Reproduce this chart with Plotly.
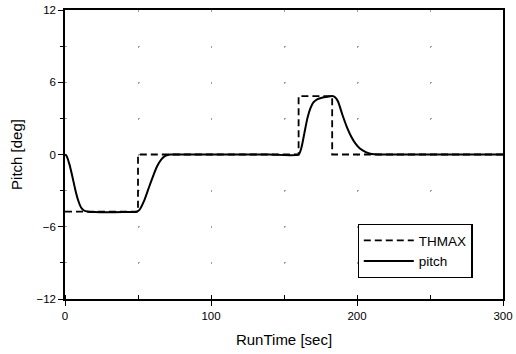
import plotly.graph_objects as go

# Commanded pitch limit (step profile) and simulated pitch response
thmax_time = [0, 50, 160, 183, 300]
thmax_deg = [-4.75, 0, 4.85, 0, 0]

pitch_time = [0, 1, 3, 5, 7, 9, 11, 13, 16, 20, 30, 40, 49, 51, 54, 57, 60, 63, 66,
              69, 72, 80, 100, 120, 140, 160, 162, 164, 166, 168, 170, 173, 176, 180,
              183, 185, 187, 190, 193, 196, 199, 202, 206, 210, 215, 230, 260, 300]
pitch_deg = [0, -0.1, -0.8, -1.8, -2.9, -3.8, -4.4, -4.65, -4.75, -4.78, -4.8, -4.78,
             -4.75, -4.6, -3.9, -2.9, -1.9, -1.0, -0.4, -0.1, 0, 0, 0, 0, 0, 0, 0.6,
             1.8, 3.0, 3.8, 4.3, 4.6, 4.72, 4.8, 4.85, 4.75, 4.4, 3.3, 2.3, 1.5, 0.9,
             0.5, 0.2, 0.05, 0, 0, 0, 0]

x_ticks = [0, 100, 200, 300]
y_ticks = [-12, -6, 0, 6, 12]

FONT = "Liberation Sans, Arial, sans-serif"

fig = go.Figure()
fig.add_trace(go.Scatter(
    x=thmax_time, y=thmax_deg, name="THMAX", mode="lines",
    line=dict(color="black", width=1.8, dash="7px,4px", shape="hv"),
))
fig.add_trace(go.Scatter(
    x=pitch_time, y=pitch_deg, name="pitch", mode="lines",
    line=dict(color="black", width=2, shape="spline", smoothing=0.6),
))

dot_grid_y = dict(showgrid=True, gridcolor="#a0a0a0", gridwidth=1.2,
                  griddash="1.5px,71.5px")
dot_grid_x = dict(showgrid=True, gridcolor="#a0a0a0", gridwidth=1.2,
                  griddash="1.5px,34.6px")

fig.update_layout(
    width=516, height=354,
    margin=dict(l=65, r=13, t=10, b=55, autoexpand=False),
    paper_bgcolor="white", plot_bgcolor="white",
    font=dict(family=FONT, color="black", size=11.5),
    showlegend=True,
    legend=dict(
        x=0.668, y=0.26, xanchor="left", yanchor="top",
        bordercolor="black", borderwidth=1.2, bgcolor="white",
        font=dict(size=13.5, family=FONT),
        itemwidth=50, tracegroupgap=2,
    ),
    xaxis=dict(
        range=[0, 300], tickvals=x_ticks, ticks="outside", ticklen=5,
        tickwidth=1.2, tickcolor="black", automargin=False,
        showline=True, linecolor="black", linewidth=1.5, mirror=True,
        zeroline=False,
        minor=dict(dtick=50, tick0=0, ticks="inside", ticklen=4,
                   tickcolor="black", **dot_grid_x),
        **dot_grid_x,
        title=dict(text="RunTime [sec]", font=dict(size=15, family=FONT), standoff=14),
    ),
    yaxis=dict(
        range=[-12, 12], tickvals=y_ticks, ticks="outside", ticklen=5,
        tickwidth=1.2, tickcolor="black", automargin=False,
        showline=True, linecolor="black", linewidth=1.5, mirror=True,
        zeroline=False,
        minor=dict(dtick=3, tick0=0, ticks="outside", ticklen=3,
                   tickcolor="black", **dot_grid_y),
        **dot_grid_y,
        title=dict(text="Pitch [deg]", font=dict(size=15, family=FONT), standoff=10),
    ),
)

fig.write_html("out.html")
